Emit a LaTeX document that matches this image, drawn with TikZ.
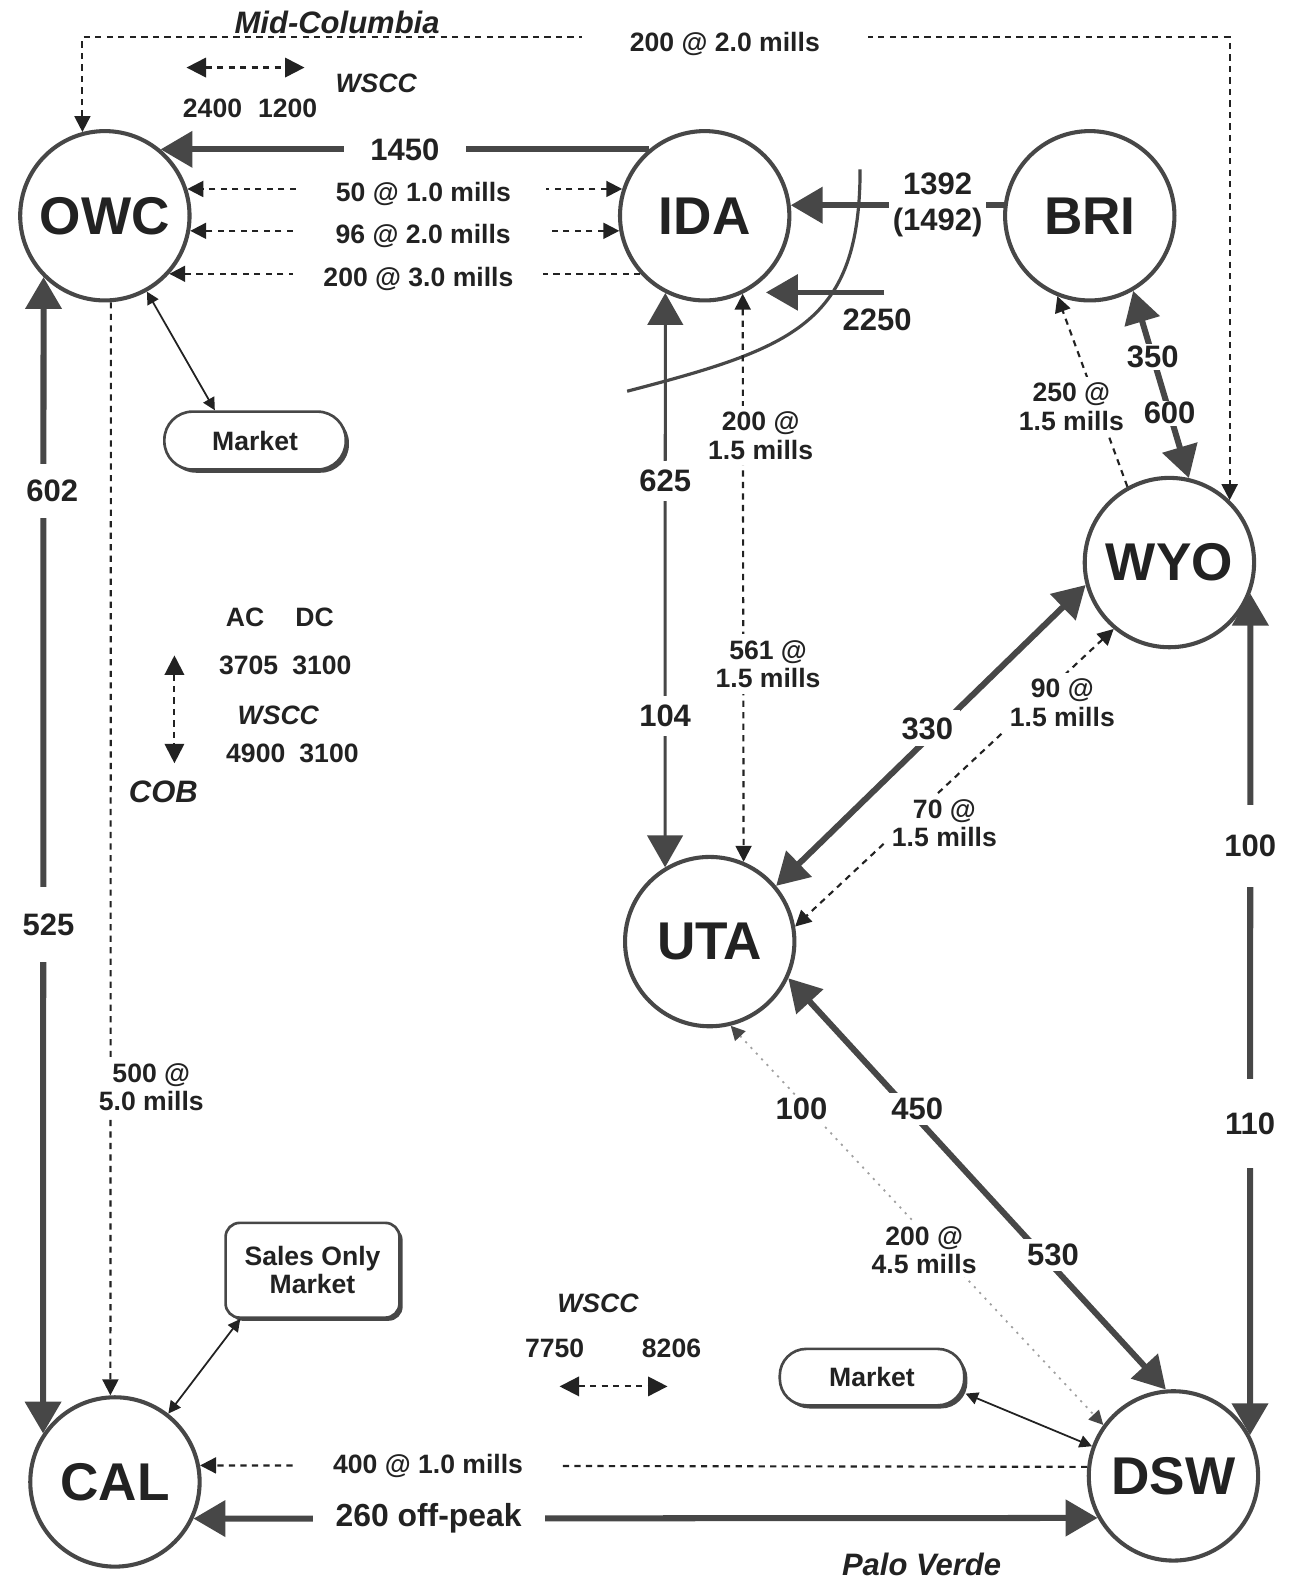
\documentclass[tikz,border=0pt]{standalone}
\usepackage{fontspec}
\setmainfont{Liberation Sans}
\usetikzlibrary{arrows.meta, positioning, shadows}

\definecolor{linegray}{HTML}{474747}
\definecolor{ink}{HTML}{222222}
\definecolor{faintgray}{HTML}{A0A0A0}

\newcommand{\hubfont}{\fontsize{30}{32}\selectfont\bfseries}
\newcommand{\numfont}{\fontsize{17.5}{20.5}\selectfont\bfseries}
\newcommand{\lblfont}{\fontsize{15}{16}\selectfont\bfseries}
\newcommand{\sitefont}{\fontsize{17.5}{20}\selectfont\bfseries\itshape}

\begin{document}
\begin{tikzpicture}[
        x = 0.02cm, y = -0.02cm, on grid,
        >= {Triangle[length = 9pt, width = 9pt]},
        bigtip/.tip = {Triangle[length = 18pt, width = 20pt]},
        legtip/.tip = {Triangle[length = 11pt, width = 11pt]},
        wiretip/.tip = {Triangle[length = 7pt, width = 7pt]},
        dimtip/.tip = {Triangle[length = 8pt, width = 8pt, color = linegray]},
        hub/.style = {circle, draw = linegray, line width = 2.3pt, fill = white,
            minimum size = 3.36cm, text = ink, font = \hubfont},
        mkt/.style = {draw = linegray, line width = 1.5pt, fill = white, text = ink,
            font = \lblfont, align = center,
            drop shadow = {shadow xshift = 1.8pt, shadow yshift = -1.8pt, fill = linegray, opacity = 1}},
        num/.style = {text = ink, font = \numfont, align = center},
        lbl/.style = {text = ink, font = \lblfont, align = center},
        legit/.style = {text = ink, font = \lblfont\itshape},
        sitename/.style = {text = ink, font = \sitefont},
        gap/.style = {fill = white},
        bulk/.style = {draw = linegray, line width = 3.4pt},
        slim/.style = {draw = linegray, line width = 1.7pt},
        trade/.style = {draw = ink, line width = 1.2pt, dash pattern = on 3.5pt off 3pt},
        wire/.style = {draw = ink, line width = 1pt, wiretip-wiretip},
        faint/.style = {draw = faintgray, line width = 1pt, dash pattern = on 1.2pt off 3.2pt, dimtip-dimtip},
        rim/.style = {draw = linegray, line width = 1.8pt}
    ]
    \useasboundingbox (0, 0) rectangle (1283, 1568);

    % control areas
    \node[hub] (OWC) at (104, 214) {OWC};
    \node[hub] (IDA) [right = 11.9cm of OWC] {IDA};
    \node[hub] (BRI) [right = 7.64cm of IDA] {BRI};
    \node[hub] (WYO) [below right = 6.88cm and 1.58cm of BRI] {WYO};
    \node[hub] (UTA) [below right = 14.4cm and 0.1cm of IDA] {UTA};
    \node[hub] (CAL) [below right = 25.12cm and 0.2cm of OWC] {CAL};
    \node[hub] (DSW) [below right = 18.12cm and 0.08cm of WYO] {DSW};

    % markets
    \node[mkt, rounded corners = 16pt, minimum width = 3.6cm, minimum height = 1.15cm]
        (mktN) [below right = 4.46cm and 2.98cm of OWC] {Market};
    \node[mkt, rounded corners = 8pt, minimum width = 3.45cm, minimum height = 1.88cm]
        (sales) [above right = 4.2cm and 3.92cm of CAL] {Sales Only\\Market};
    \node[mkt, rounded corners = 15pt, minimum width = 3.66cm, minimum height = 1.12cm]
        (mktS) [above left = 1.96cm and 5.98cm of DSW] {Market};

    % interface east of IDA
    \draw[rim] (853, 168) .. controls (853, 321) and (787, 345) .. (622, 388);
    \coordinate (tie2250) at (877, 290);
    \node[num] (l2250) at (870, 317) {2250};

    % transfers
    \path
        (IDA.130) edge [bulk, -bigtip] node [num, gap, inner xsep = 15pt] {1450} (OWC.50)
        (IDA.162) edge [trade, <->] node [pos = 0.457, lbl, gap, inner xsep = 20pt, yshift = -3pt] {50 @ 1.0 mills} (OWC.18)
        (IDA.190) edge [trade, <->] node [pos = 0.457, lbl, gap, inner xsep = 21pt, yshift = -3pt] {96 @ 2.0 mills} (OWC.-10)
        (IDA.222) edge [trade, ->] node [pos = 0.471, lbl, gap, inner xsep = 17pt, yshift = -3pt] {200 @ 3.0 mills} (OWC.-42)
        (BRI.173) edge [bulk, -bigtip] node [pos = 0.31, num, gap, inner sep = 2pt] {1392\\(1492)} (IDA.7)
        (tie2250) edge [bulk, line width = 2.6pt, -bigtip] (tie2250 -| IDA.south east)
        (IDA.243) edge [slim, bigtip-bigtip]
            node [pos = 0.327, num, gap, inner ysep = 5pt] {625}
            node [pos = 0.736, num, gap, inner ysep = 5pt] {104} (UTA.121)
        (IDA.-64) edge [trade, <->]
            node [pos = 0.25, lbl, gap, xshift = 10pt] {200 @\\1.5 mills}
            node [pos = 0.652, lbl, gap, xshift = 14pt] {561 @\\1.5 mills} (UTA.67)
        (UTA.40) edge [bulk, bigtip-bigtip] node [num, gap, inner sep = 4pt, xshift = -2pt, yshift = 4pt] {330} (WYO.195)
        (WYO.230) edge [trade, <->]
            node [pos = 0.2, lbl, gap, xshift = 7pt, yshift = -8pt] {90 @\\1.5 mills}
            node [pos = 0.587, lbl, gap, xshift = 10pt, yshift = -11pt] {70 @\\1.5 mills} (UTA.10)
        (WYO.119) edge [trade, ->] node [pos = 0.42, lbl, gap, xshift = -15pt] {250 @\\1.5 mills} (BRI.248)
        (BRI.-60) edge [bulk, bigtip-bigtip]
            node [pos = 0.353, num, gap, inner sep = 1pt] {350}
            node [pos = 0.654, num, gap, inner sep = 1pt] {600} (WYO.77)
        (OWC.225) edge [bulk, bigtip-bigtip]
            node [pos = 0.185, num, gap, inner ysep = 9pt, xshift = 5pt] {602}
            node [pos = 0.56, num, gap, inner ysep = 15pt, xshift = 3pt] {525} (CAL.146)
        (OWC.-86) edge [trade, ->] node [pos = 0.718, lbl, gap, xshift = 23pt] {500 @\\5.0 mills} (CAL.93)
        (OWC.-61) edge [wire] (mktN.143)
        (CAL.52) edge [wire] (sales.214)
        (mktS.-10) edge [wire] (DSW.160)
        (DSW.174) edge [trade, ->] node [pos = 0.743, lbl, gap, inner xsep = 22pt] {400 @ 1.0 mills} (CAL.11)
        (CAL.-25) edge [bulk, bigtip-bigtip] node [pos = 0.26, num, gap, inner xsep = 13pt, font = \fontsize{18}{20}\selectfont\bfseries] {260 off-peak} (DSW.209)
        (WYO.-21.5) edge [bulk, bigtip-bigtip]
            node [pos = 0.3, num, gap, inner ysep = 17pt] {100}
            node [pos = 0.63, num, gap, inner ysep = 19pt] {110} (DSW.28)
        (UTA.-76) edge [faint]
            node [pos = 0.209, num, gap, inner sep = 2pt, xshift = -4pt] {100}
            node [pos = 0.562, lbl, gap, inner sep = 2pt, xshift = -9pt] {200 @\\4.5 mills} (DSW.144)
        (UTA.-25) edge [bulk, bigtip-bigtip]
            node [pos = 0.318, num, gap, inner sep = 3pt, xshift = 5pt] {450}
            node [pos = 0.673, num, gap, inner sep = 3pt, xshift = 6pt] {530} (DSW.95);

    % Mid-Columbia tie
    \coordinate (ridge) at (640, 37);
    \draw[trade, <->] (OWC.105) |-
        node [pos = 0.611, sitename, anchor = base, yshift = 2pt] {Mid-Columbia}
        node [pos = 0.78, lbl, gap, inner xsep = 27pt, yshift = -4pt] {200 @ 2.0 mills} (ridge -| WYO.46) -- (WYO.46);

    % WSCC ratings
    \node[legit] (wsccN) at (373, 83) {WSCC};
    \node[lbl] (ratN) at (248, 107) {2400\hspace{9pt}1200};
    \coordinate (ratNw) at (185, 67);
    \coordinate (ratNe) at (302, 67);
    \draw[trade, legtip-legtip] (ratNw) -- (ratNe);

    \node[lbl] (ac) at (243, 612) {AC};
    \node[lbl] (dc) at (312, 612) {DC};
    \node[lbl] (ratC1) at (283, 660) {3705\hspace{8pt}3100};
    \node[legit] (wsccC) at (276, 709) {WSCC};
    \node[lbl] (ratC2) at (290, 747) {4900\hspace{8pt}3100};
    \node[sitename] (cob) at (162, 785) {COB};
    \coordinate (cobN) at (173, 650);
    \coordinate (cobS) at (173, 757);
    \draw[trade, legtip-legtip] (cobN) -- (cobS);

    \node[legit] (wsccS) at (593, 1293) {WSCC};
    \node[lbl] (ratS1) at (550, 1337) {7750};
    \node[lbl] (ratS2) at (666, 1337) {8206};
    \coordinate (ratSw) at (555, 1375);
    \coordinate (ratSe) at (662, 1375);
    \draw[trade, legtip-legtip] (ratSw) -- (ratSe);
    \node[sitename] (palo) at (914, 1552) {Palo Verde};
\end{tikzpicture}
\end{document}
